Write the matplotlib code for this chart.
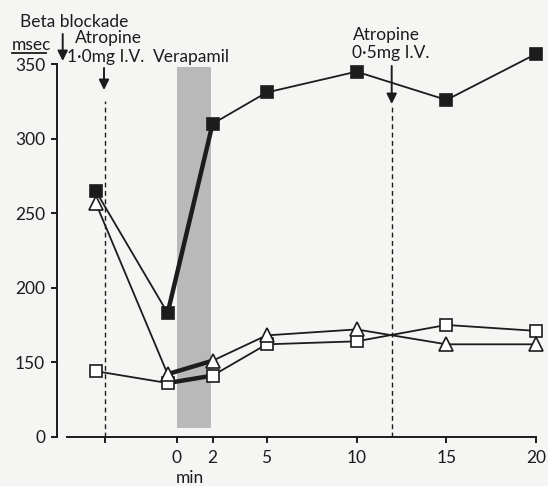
import matplotlib
matplotlib.use("Agg")
import matplotlib.pyplot as plt
from matplotlib.lines import Line2D

# ---- data ----
time_min = [-4.5, -0.5, 2, 5, 10, 15, 20]
filled_sq = [265, 183, 310, 331, 345, 326, 357]
open_tri = [257, 142, 151, 168, 172, 162, 162]
open_sq = [144, 136, 141, 162, 164, 175, 171]

xticks = [-4, 0, 2, 5, 10, 15, 20]
xtick_labels = ["", "0", "2", "5", "10", "15", "20"]
yticks = [100, 150, 200, 250, 300, 350]
ytick_labels = ["0", "150", "200", "250", "300", "350"]

verapamil_span = (0, 1.9)
atropine1_x = -4
atropine2_x = 12

W, H = 548, 486
plt.rcParams['font.family'] = ['Lato', 'DejaVu Sans']
INK = '#1c1c1c'
BG = '#f5f5f3'

fig = plt.figure(figsize=(W / 100, H / 100), dpi=100, facecolor=BG)

def px(x, y):
    return x / W, 1 - y / H

# axes: left spine at px 57, right at 540; y=100 at px 436.7, y=362 at px 46.3
ax = fig.add_axes([57 / W, (H - 436.7) / H, (540 - 57) / W, (436.7 - 46.3) / H])
ax.set_facecolor(BG)
ax.set_xlim(-6.65, 20.2)
ax.set_ylim(100, 362)

for s in ['top', 'right']:
    ax.spines[s].set_visible(False)
ax.spines['left'].set_bounds(100, 350)
ax.spines['bottom'].set_bounds(-6.1, 20)
ax.spines['bottom'].set_position(('data', 100))
for s in ['left', 'bottom']:
    ax.spines[s].set_linewidth(1.4)
    ax.spines[s].set_color(INK)

ax.set_xticks(xticks)
ax.set_xticklabels(xtick_labels)
ax.set_yticks(yticks)
ax.set_yticklabels(ytick_labels)
ax.tick_params(axis='both', direction='out', length=4.5, width=1.4, color=INK,
               labelsize=12.5, labelcolor=INK)
ax.tick_params(axis='y', pad=4)
ax.tick_params(axis='x', pad=5)

# verapamil shading
ax.fill_between(list(verapamil_span), 106, 348, color='#b9b9b9', lw=0, zorder=1)

# dashed atropine lines
ax.plot([atropine1_x, atropine1_x], [100, 325], ls=(0, (3.5, 2.5)), lw=1.0, color=INK, zorder=2)
ax.plot([atropine2_x, atropine2_x], [100, 322], ls=(0, (3.5, 2.5)), lw=1.0, color=INK, zorder=2)

# series
for vals, mk, fc, ms in [(open_sq, 's', 'white', 9),
                         (open_tri, '^', 'white', 9.5),
                         (filled_sq, 's', INK, 8)]:
    ax.plot(time_min, vals, color=INK, lw=1.3, zorder=3)
    ax.plot(time_min[1:3], vals[1:3], color=INK, lw=3.2, zorder=3.5, solid_capstyle='butt')
    ax.plot(time_min, vals, ls='none', marker=mk, mfc=fc, mec=INK, mew=1.2, ms=ms,
            zorder=4, clip_on=False)

# texts
fs = 12.5
fig.text(*px(20, 22), "Beta blockade", fontsize=fs, color=INK, va='center', ha='left')
fig.text(*px(75, 38), "Atropine", fontsize=fs, color=INK, va='center', ha='left')
fig.text(*px(67, 57), "1·0mg I.V.", fontsize=fs, color=INK, va='center', ha='left')
fig.text(*px(153, 57), "Verapamil", fontsize=fs, color=INK, va='center', ha='left')
fig.text(*px(12, 45), "msec", fontsize=fs, color=INK, va='center', ha='left')
fig.add_artist(Line2D([12 / W, 46 / W], [1 - 53 / H, 1 - 53 / H], color=INK, lw=1.3))
fig.text(*px(353, 35), "Atropine", fontsize=fs, color=INK, va='center', ha='left')
fig.text(*px(352, 53), "0·5mg I.V.", fontsize=fs, color=INK, va='center', ha='left')
fig.text(*px(190, 478), "min", fontsize=fs, color=INK, va='center', ha='center')

def arrow(x, y0, y1):
    fig.add_artist(matplotlib.patches.FancyArrowPatch(
        px(x, y0), px(x, y1), transform=fig.transFigure,
        arrowstyle='-|>,head_length=6,head_width=3', lw=1.4, color=INK,
        shrinkA=0, shrinkB=0))

arrow(62.7, 34, 61)
arrow(104, 68, 90)
arrow(391.7, 66, 104)

fig.savefig("out.png", dpi=100, facecolor=BG)
